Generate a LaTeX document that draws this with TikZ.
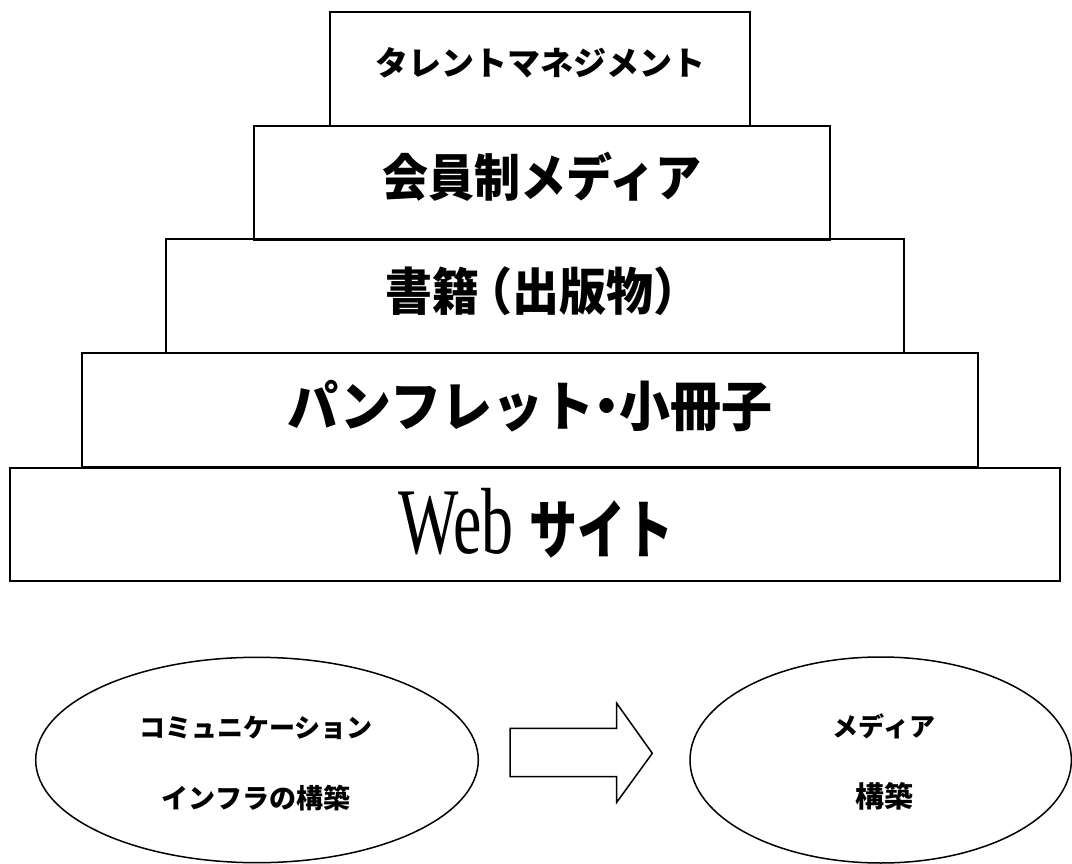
\documentclass[tikz,border=0pt]{standalone}
\usepackage{fontspec}
\usetikzlibrary{shapes.geometric}
\newfontfamily\jp{Noto Sans CJK JP}
\newfontfamily\webf{Liberation Serif}
\tikzset{
  tier/.style={draw, line width=1.8pt, inner sep=0pt, outer sep=0pt, anchor=north west, minimum height=114pt},
  lbl/.style={inner sep=0pt, font=\jp\bfseries},
  oval/.style={draw, ellipse, line width=1.5pt, inner sep=0pt, outer sep=0pt},
  bigarrow/.style={draw, line width=1.5pt, line join=miter},
}
\begin{document}
\begin{tikzpicture}[x=1pt,y=-1pt]
\useasboundingbox (0,0) rectangle (1072,864);
% pyramid tiers
\node[tier, minimum width=420pt] (t1) at (330,11.7) {};
\node[tier, minimum width=576pt] (t2) at (254,125.7) {};
\node[tier, minimum width=738.6pt] (t3) at (165.7,239.3) {};
\node[tier, minimum width=896.6pt] (t4) at (81.7,353.3) {};
\node[tier, minimum width=1050.3pt, minimum height=113.5pt] (t5) at (10,467.7) {};
% labels
\node[lbl] (l1) at (540,62.5) {\fontsize{33}{36}\selectfont タレントマネジメント};
\node[lbl] (l2) at (542,177) {\scalebox{1}[1.1]{\fontsize{46}{50}\selectfont 会員制メディア}};
\node[lbl] (l3) at (543,291) {\scalebox{1}[1.08]{\fontsize{47}{50}\selectfont 書籍\kern-0.3em（出版物）}};
\node[lbl] (l4) at (530,406) {\scalebox{1}[1.06]{\fontsize{51}{54}\selectfont パンフレット\kern-0.25em・\kern-0.25em小冊子}};
\node[inner sep=0pt] (l5) at (536,523) {\scalebox{0.68}[1]{\webf\fontsize{94}{100}\selectfont Web}\hspace{16pt}\scalebox{0.75}[1]{\jp\bfseries\fontsize{64}{70}\selectfont サイト}};
% bottom ellipses
\node[oval, minimum width=442.6pt, minimum height=205.4pt] (e1) at (257,760) {};
\node[oval, minimum width=381.4pt, minimum height=206pt] (e2) at (880.7,760) {};
\node[lbl] (e1a) at (256,728) {\fontsize{26}{30}\selectfont コミュニケーション};
\node[lbl] (e1b) at (256,798) {\fontsize{27}{30}\selectfont インフラの構築};
\node[lbl] (e2a) at (884,726) {\fontsize{26}{30}\selectfont メディア};
\node[lbl] (e2b) at (884,796) {\fontsize{29}{32}\selectfont 構築};
% block arrow
\draw[bigarrow] (510,728.3) -- (616.7,728.3) -- (616.7,703.3) -- (652.3,753.3)
  -- (616.7,802.3) -- (616.7,776.7) -- (510,776.7) -- cycle;
\end{tikzpicture}
\end{document}
